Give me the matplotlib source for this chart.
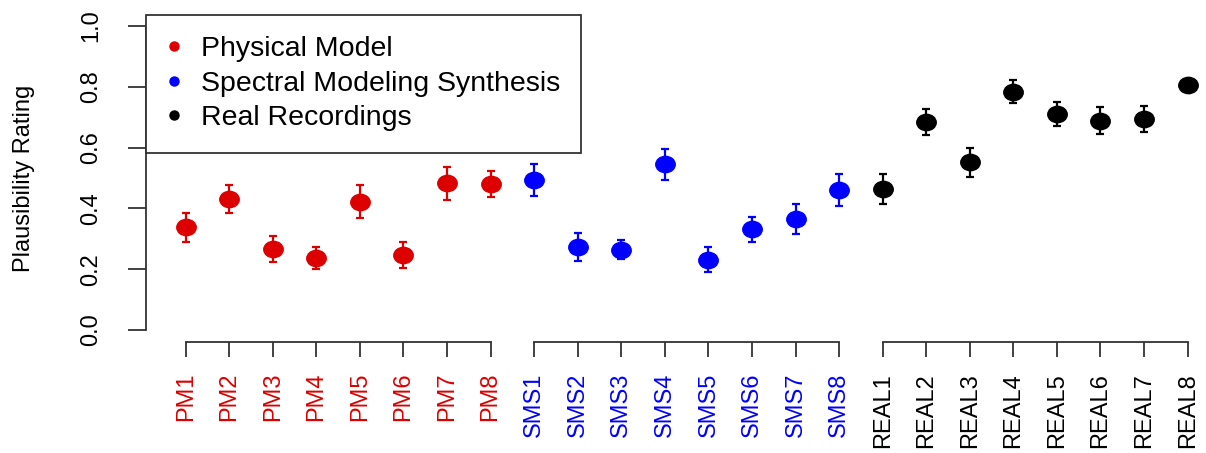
import numpy as np
import matplotlib
matplotlib.use("Agg")
import matplotlib.pyplot as plt
from matplotlib.path import Path
from matplotlib.transforms import Affine2D
from matplotlib.lines import Line2D

plt.rcParams['font.family'] = ['Liberation Sans', 'DejaVu Sans']

# stimulus labels per group
pm_labels = ['PM%d' % i for i in range(1, 9)]
sms_labels = ['SMS%d' % i for i in range(1, 9)]
real_labels = ['REAL%d' % i for i in range(1, 9)]

# mean plausibility ratings
pm_mean = [0.338, 0.431, 0.267, 0.237, 0.422, 0.247, 0.482, 0.480]
sms_mean = [0.494, 0.274, 0.264, 0.545, 0.231, 0.331, 0.366, 0.461]
real_mean = [0.463, 0.684, 0.552, 0.784, 0.711, 0.689, 0.694, 0.806]

# standard errors
pm_err = [0.048, 0.045, 0.043, 0.037, 0.055, 0.043, 0.053, 0.044]
sms_err = [0.052, 0.046, 0.032, 0.050, 0.041, 0.042, 0.050, 0.053]
real_err = [0.050, 0.044, 0.048, 0.037, 0.040, 0.045, 0.042, 0.010]

groups = [
    ('Physical Model', pm_labels, pm_mean, pm_err, '#DD0000'),
    ('Spectral Modeling Synthesis', sms_labels, sms_mean, sms_err, '#0000FF'),
    ('Real Recordings', real_labels, real_mean, real_err, '#000000'),
]

# slightly wide ellipse marker (the original image is stretched horizontally)
ell = Path.unit_circle().transformed(Affine2D().scale(1.19, 1.0))

fig = plt.figure(figsize=(12.06, 4.53), dpi=100)
ax = fig.add_axes([0.1207, 0.2446, 0.8973, 0.7249])

pos = 1
ticks, ticklabels, tickcolors = [], [], []
handles = []
for name, labels, mean, err, col in groups:
    x = np.arange(pos, pos + len(labels))
    ax.errorbar(x, mean, yerr=err, fmt='none', ecolor=col, elinewidth=1.6,
                capsize=3, capthick=1.6)
    ax.plot(x, mean, linestyle='none', marker=ell, markersize=14, color=col)
    # separate axis segment for this group
    ax.plot([x[0], x[-1]], [0, 0], transform=ax.get_xaxis_transform(),
            color='#333333', lw=1.3, clip_on=False)
    ticks += list(x)
    ticklabels += labels
    tickcolors += [col] * len(labels)
    handles.append(Line2D([], [], linestyle='none', marker='o', markersize=6.5,
                          color=col, label=name))
    pos += len(labels)

ax.set_xlim(0.08, 24.92)
ax.set_ylim(-0.04, 1.04)

for s in ['top', 'right', 'bottom']:
    ax.spines[s].set_visible(False)
ax.spines['left'].set_bounds(0, 1)
ax.spines['left'].set_color('#333333')
ax.spines['left'].set_linewidth(1.3)

ax.set_xticks(ticks)
ax.set_xticklabels(ticklabels, rotation=90, fontsize=17)
for lab, c in zip(ax.get_xticklabels(), tickcolors):
    lab.set_color(c)
ax.tick_params(axis='x', length=11, width=1.3, color='#333333', pad=11)

yt = np.arange(0, 1.01, 0.2)
ax.set_yticks(yt)
ax.set_yticklabels(['%.1f' % v for v in yt], rotation=90, va='center', fontsize=17)
ax.tick_params(axis='y', length=13, width=1.3, color='#333333', pad=18)

ax.set_ylabel('Plausibility Rating', fontsize=17)
ax.yaxis.set_label_coords(-0.102, 0.5)

leg = ax.legend(handles=handles, loc='upper left', bbox_to_anchor=(0, 0.997),
                borderaxespad=0, fancybox=False, framealpha=1, edgecolor='#333333',
                fontsize=20.5, handletextpad=0.72, handlelength=0.47,
                borderpad=0.75, labelspacing=0.3)
leg.get_frame().set_linewidth(1.3)

fig.savefig('out.png', dpi=100)
